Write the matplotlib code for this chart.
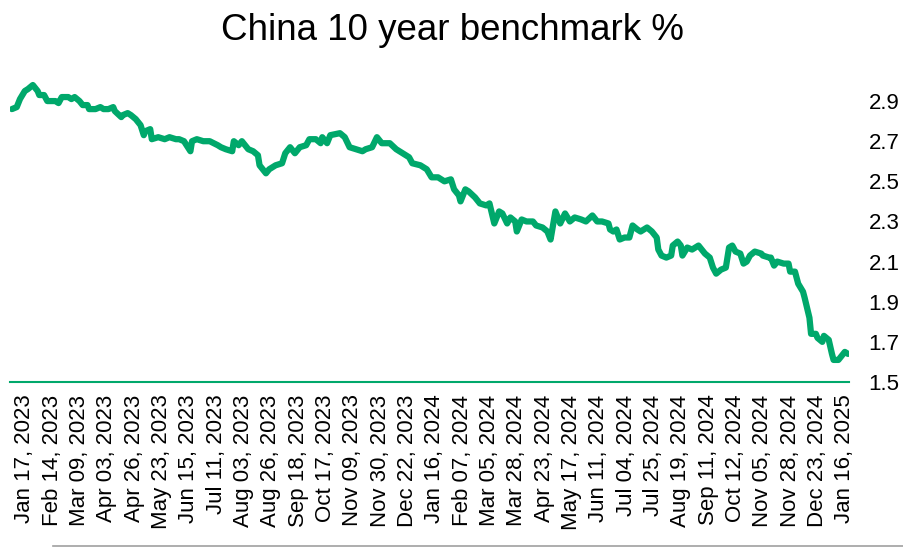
import matplotlib
matplotlib.use('Agg')
from matplotlib import pyplot as plt
from matplotlib.lines import Line2D

plt.rcParams['font.family'] = ['Liberation Sans', 'DejaVu Sans']

# trading-day index of each reading and the yield in %
day = [0, 3, 5, 8, 10, 13, 16, 17, 20, 22, 25, 27, 29, 31, 35, 37, 39, 42, 44, 47,
       48, 52, 55, 57, 60, 63, 64, 68, 69, 72, 74, 77, 80, 82, 83, 86, 87, 91, 95, 98,
       102, 104, 107, 111, 112, 115, 119, 123, 128, 130, 133, 137, 138, 141, 143, 147, 150, 153, 154, 158,
       160, 164, 168, 170, 173, 176, 179, 183, 185, 189, 192, 193, 196, 198, 204, 207, 210, 214, 218, 220,
       224, 227, 230, 235, 239, 243, 247, 249, 254, 258, 261, 265, 269, 273, 275, 278, 279, 282, 284, 288,
       291, 295, 297, 300, 303, 305, 308, 310, 313, 314, 317, 320, 324, 326, 330, 333, 335, 338, 341, 344,
       347, 350, 354, 357, 361, 364, 367, 371, 372, 374, 376, 378, 381, 384, 386, 389, 391, 395, 398, 401,
       402, 404, 407, 410, 411, 414, 416, 417, 420, 423, 427, 428, 431, 434, 436, 438, 441, 444, 446, 448,
       450, 453, 455, 457, 459, 462, 466, 467, 471, 472, 474, 476, 480, 483, 484, 487, 489, 492, 493, 496,
       497, 500, 501, 504, 505, 508, 510, 511, 514, 517, 518, 520]
yld = [2.86, 2.87, 2.91, 2.95, 2.96, 2.98, 2.95, 2.93, 2.93, 2.90, 2.90, 2.90, 2.89, 2.92, 2.92, 2.91, 2.92, 2.90, 2.88, 2.88,
       2.86, 2.86, 2.87, 2.86, 2.86, 2.87, 2.85, 2.82, 2.83, 2.84, 2.83, 2.81, 2.78, 2.73, 2.75, 2.76, 2.71, 2.72, 2.71, 2.72,
       2.71, 2.71, 2.70, 2.65, 2.70, 2.71, 2.70, 2.70, 2.68, 2.67, 2.66, 2.65, 2.70, 2.68, 2.70, 2.66, 2.65, 2.63, 2.58, 2.54,
       2.56, 2.58, 2.59, 2.64, 2.67, 2.64, 2.67, 2.68, 2.71, 2.71, 2.69, 2.72, 2.69, 2.73, 2.74, 2.72, 2.67, 2.66, 2.65, 2.66,
       2.67, 2.72, 2.69, 2.69, 2.66, 2.64, 2.62, 2.59, 2.58, 2.56, 2.52, 2.52, 2.50, 2.51, 2.46, 2.43, 2.40, 2.46, 2.45, 2.42,
       2.39, 2.38, 2.39, 2.29, 2.35, 2.34, 2.29, 2.32, 2.30, 2.25, 2.31, 2.30, 2.30, 2.28, 2.27, 2.25, 2.21, 2.35, 2.29, 2.34,
       2.30, 2.32, 2.31, 2.30, 2.33, 2.30, 2.30, 2.29, 2.26, 2.25, 2.26, 2.21, 2.22, 2.22, 2.28, 2.26, 2.25, 2.27, 2.25, 2.22,
       2.16, 2.13, 2.12, 2.13, 2.18, 2.20, 2.18, 2.13, 2.17, 2.16, 2.18, 2.17, 2.14, 2.12, 2.07, 2.04, 2.06, 2.07, 2.17, 2.18,
       2.15, 2.14, 2.09, 2.10, 2.13, 2.15, 2.14, 2.13, 2.12, 2.12, 2.08, 2.10, 2.09, 2.09, 2.05, 2.05, 1.99, 1.95, 1.92, 1.82,
       1.74, 1.74, 1.72, 1.70, 1.73, 1.71, 1.64, 1.61, 1.61, 1.64, 1.65, 1.64]

tick_labels = ['Jan 17, 2023', 'Feb 14, 2023', 'Mar 09, 2023', 'Apr 03, 2023', 'Apr 26, 2023',
               'May 23, 2023', 'Jun 15, 2023', 'Jul 11, 2023', 'Aug 03, 2023', 'Aug 26, 2023',
               'Sep 18, 2023', 'Oct 17, 2023', 'Nov 09, 2023', 'Nov 30, 2023', 'Dec 22, 2023',
               'Jan 16, 2024', 'Feb 07, 2024', 'Mar 05, 2024', 'Mar 28, 2024', 'Apr 23, 2024',
               'May 17, 2024', 'Jun 11, 2024', 'Jul 04, 2024', 'Jul 25, 2024', 'Aug 19, 2024',
               'Sep 11, 2024', 'Oct 12, 2024', 'Nov 05, 2024', 'Nov 28, 2024', 'Dec 23, 2024',
               'Jan 16, 2025']
tick_days = [8 + 17 * i for i in range(len(tick_labels))]
y_ticks = [1.5, 1.7, 1.9, 2.1, 2.3, 2.5, 2.7, 2.9]

green = '#00a86b'

fig = plt.figure(figsize=(9.04, 5.47), dpi=100)
ax = fig.add_axes([10 / 904, 165 / 547, 839 / 904, 301 / 547])

ax.plot(day, yld, color=green, lw=4.5, solid_joinstyle='round', solid_capstyle='round')

ax.set_xlim(-1.2, 520.6)
ax.set_ylim(1.5, 3.0)
ax.set_xticks(tick_days)
ax.set_xticklabels(tick_labels, rotation=90, fontsize=16)
ax.set_yticks(y_ticks)
ax.set_yticklabels([f'{v:.1f}' for v in y_ticks], fontsize=16)
ax.yaxis.tick_right()
ax.tick_params(axis='y', length=0, pad=14)
ax.tick_params(axis='x', length=0, pad=9)

for s in ['top', 'left', 'right']:
    ax.spines[s].set_visible(False)
ax.spines['bottom'].set_color(green)
ax.spines['bottom'].set_linewidth(1.5)

fig.text(0.5, 1 - 31 / 547, 'China 10 year benchmark %', fontsize=26.5, ha='center', va='center')

fig.add_artist(Line2D([53 / 904, 1], [1.5 / 547, 1.5 / 547], color='#a0a0a0', lw=1.2))

plt.savefig('out.png', dpi=100)
